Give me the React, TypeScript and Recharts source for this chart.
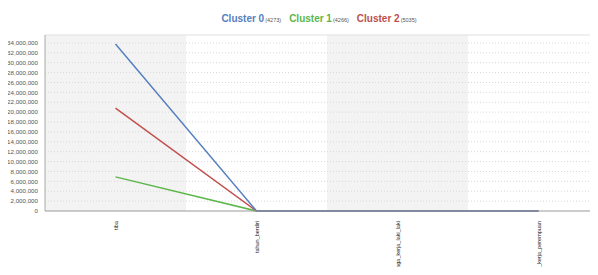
import React from 'react';
import { ComposedChart, Bar, Cell, Line, XAxis, YAxis, ReferenceLine } from 'recharts';

const categories = ['tiba', 'tahun_berdiri', 'tenaga_kerja_laki_laki', 'tenaga_kerja_perempuan'];
const cluster0 = [33800000, 2000, 0, 0];
const cluster1 = [6900000, 2000, 0, 0];
const cluster2 = [20800000, 2000, 0, 0];
const clusterNames = ['Cluster 0', 'Cluster 1', 'Cluster 2'];
const clusterCounts = ['4273', '4266', '5035'];
const yTicks = [0, 2000000, 4000000, 6000000, 8000000, 10000000, 12000000, 14000000, 16000000, 18000000, 20000000, 22000000, 24000000, 26000000, 28000000, 30000000, 32000000, 34000000];
const yMax = 35600000;

const colors = ['#5580c0', '#5cb74a', '#c0504d'];

const data = categories.map((name, i) => ({
    name,
    shade: yMax,
    c0: cluster0[i],
    c1: cluster1[i],
    c2: cluster2[i],
}));

const XTick = (props: any) => {
    const { x, y, payload } = props;
    return (
        <text
            transform={`translate(${x},${y + 2}) rotate(-90)`}
            textAnchor="end"
            dominantBaseline="central"
            fontSize={5.5}
            fill="#1a1a1a"
        >
            {payload.value}
        </text>
    );
};

const App = () => {
    return (
        <div style={{ margin: -8, width: 598, height: 275, overflow: 'hidden', position: 'relative', fontFamily: '"Liberation Sans", Arial, sans-serif' }}>
            <div style={{ position: 'absolute', top: 11, left: 9, width: 620, textAlign: 'center', whiteSpace: 'nowrap', lineHeight: '12px' }}>
                {clusterNames.map((n, i) => (
                    <span key={n} style={{ marginRight: i < 2 ? 8 : 0 }}>
                        <span style={{ color: colors[i], fontWeight: 'bold', fontSize: 10 }}>{n}</span>
                        <span style={{ color: '#555', fontSize: 5.5, marginLeft: 1 }}>({clusterCounts[i]})</span>
                    </span>
                ))}
            </div>
            <ComposedChart
                width={610}
                height={290}
                data={data}
                margin={{ top: 35, right: 1, left: 0, bottom: 0 }}
                barCategoryGap={0}
                style={{ position: 'absolute', top: 0, left: 0 }}
            >
                <Bar dataKey="shade" isAnimationActive={false}>
                    {data.map((d, i) => (
                        <Cell key={d.name} fill={i % 2 === 0 ? '#f3f3f3' : '#ffffff'} />
                    ))}
                </Bar>
                {yTicks.slice(1).map((t) => (
                    <ReferenceLine key={t} y={t} stroke="#d8d8d8" strokeDasharray="1 2" />
                ))}
                <ReferenceLine y={yMax} stroke="#e0e0e0" />
                <XAxis
                    dataKey="name"
                    height={79}
                    tick={<XTick />}
                    tickLine={false}
                    axisLine={{ stroke: '#999' }}
                    interval={0}
                />
                <YAxis
                    width={45}
                    domain={[0, yMax]}
                    ticks={yTicks}
                    tickFormatter={(v: number) => v.toLocaleString('en-US')}
                    tick={{ fontSize: 6.2, fill: '#555', dx: 1 }}
                    tickLine={false}
                    axisLine={{ stroke: '#aaa' }}
                    interval={0}
                />
                <Line dataKey="c1" stroke={colors[1]} strokeWidth={1.5} dot={false} isAnimationActive={false} />
                <Line dataKey="c2" stroke={colors[2]} strokeWidth={1.5} dot={false} isAnimationActive={false} />
                <Line dataKey="c0" stroke={colors[0]} strokeWidth={1.5} dot={false} isAnimationActive={false} />
            </ComposedChart>
        </div>
    );
};

export default App;
